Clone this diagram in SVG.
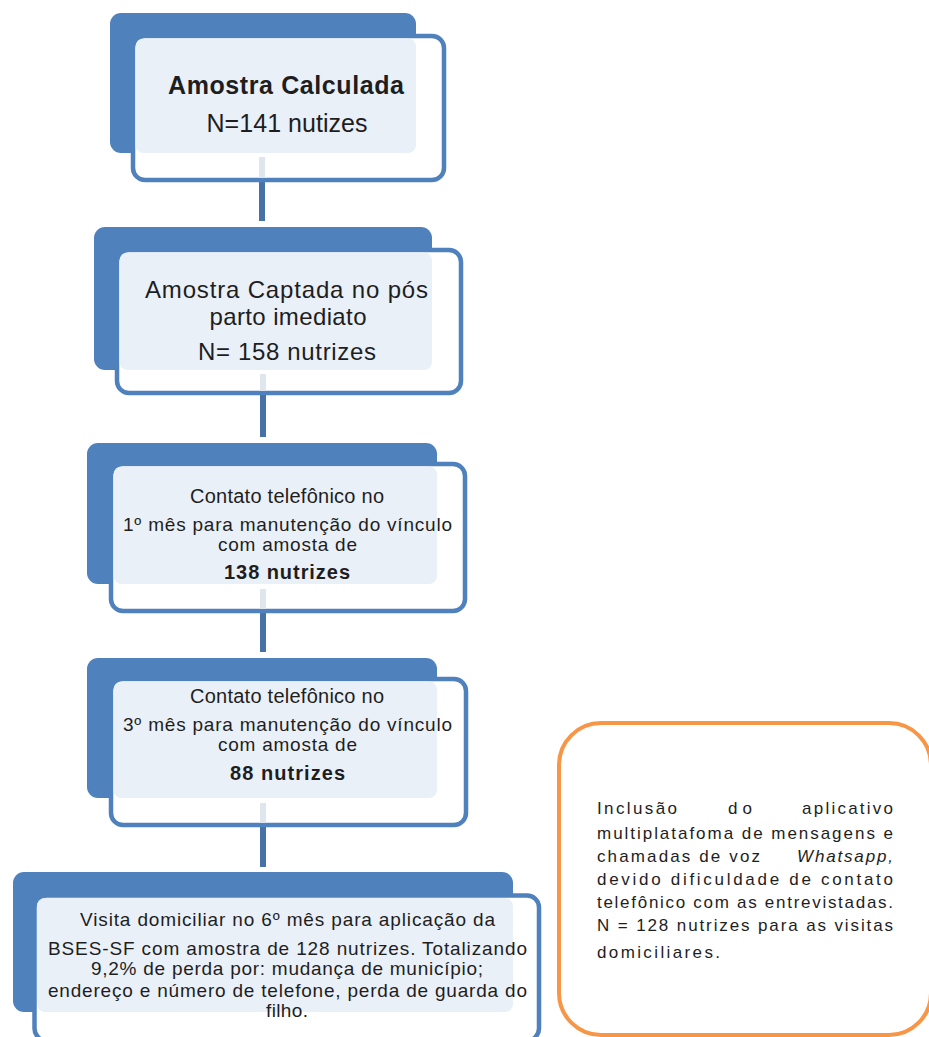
<svg xmlns="http://www.w3.org/2000/svg" width="929" height="1037" viewBox="0 0 929 1037">
<style>
.back{fill:#4F81BD}
.front{fill:#FFFFFF;stroke:#4F81BD;stroke-width:4.5}
.light{fill:#EAF0F8}
.t{font-family:"Liberation Sans",Arial,sans-serif;fill:#1E1E1E;text-anchor:middle}
.b{font-weight:bold}
.o{font-family:"Liberation Sans",Arial,sans-serif;fill:#1E1E1E;font-size:17px}
.conn{stroke:#4672A8;stroke-width:6;fill:none}
.faint{stroke:#E0E6EE;stroke-width:6;fill:none}
</style>
<rect width="929" height="1037" fill="#FFFFFF"/>
<g id="connectors">
<line class="conn" x1="262" y1="182" x2="262" y2="221"/>
<line class="conn" x1="263" y1="395" x2="263" y2="437"/>
<line class="conn" x1="263" y1="613" x2="263" y2="652"/>
<line class="conn" x1="263" y1="827" x2="263" y2="867"/>
</g>
<g id="node1">
<rect class="back" x="110" y="13" width="306" height="140" rx="11"/>
<rect class="front" x="133" y="36" width="311" height="144" rx="12"/>
<rect class="light" x="135.5" y="38.5" width="280.5" height="114.5" rx="8"/>
<line class="faint" x1="262" y1="157" x2="262" y2="178"/>
<text class="t b" x="286" y="94" font-size="25" textLength="236">Amostra Calculada</text>
<text class="t" x="287" y="132" font-size="25" textLength="161">N=141 nutizes</text>
</g>
<g id="node2">
<rect class="back" x="94" y="227" width="338" height="143" rx="11"/>
<rect class="front" x="117" y="250" width="344" height="143" rx="12"/>
<rect class="light" x="119.5" y="252.5" width="312.5" height="117.5" rx="8"/>
<line class="faint" x1="263" y1="374" x2="263" y2="391"/>
<text class="t" x="286.5" y="298" font-size="24" textLength="283">Amostra Captada no pós</text>
<text class="t" x="288" y="325" font-size="24" textLength="157">parto imediato</text>
<text class="t" x="287" y="360" font-size="24" textLength="178">N= 158 nutrizes</text>
</g>
<g id="node3">
<rect class="back" x="87" y="443" width="350" height="141" rx="11"/>
<rect class="front" x="111" y="464" width="354" height="147" rx="12"/>
<rect class="light" x="113.5" y="466.5" width="323.5" height="117.5" rx="8"/>
<line class="faint" x1="263" y1="589" x2="263" y2="609"/>
<text class="t" x="287" y="503" font-size="20" textLength="194">Contato telefônico no</text>
<text class="t" x="287.5" y="531" font-size="19" textLength="329">1º mês para manutenção do vínculo</text>
<text class="t" x="287.5" y="551" font-size="19" textLength="139">com amosta de</text>
<text class="t b" x="287" y="579" font-size="20" textLength="126">138 nutrizes</text>
</g>
<g id="node4">
<rect class="back" x="87" y="658" width="350" height="140" rx="11"/>
<rect class="front" x="111" y="679" width="355" height="146" rx="12"/>
<rect class="light" x="113.5" y="681.5" width="323.5" height="116.5" rx="8"/>
<line class="faint" x1="263" y1="803" x2="263" y2="823"/>
<text class="t" x="287" y="703" font-size="20" textLength="194">Contato telefônico no</text>
<text class="t" x="287.5" y="731" font-size="19" textLength="329">3º mês para manutenção do vínculo</text>
<text class="t" x="287.5" y="751" font-size="19" textLength="139">com amosta de</text>
<text class="t b" x="287.5" y="780" font-size="20" textLength="115">88 nutrizes</text>
</g>
<g id="node5">
<rect class="back" x="13" y="872" width="500" height="140" rx="11"/>
<rect class="front" x="34.5" y="895.5" width="504.5" height="145" rx="12"/>
<rect class="light" x="37" y="898" width="476" height="114" rx="8"/>
<text class="t" x="287.5" y="926" font-size="19" textLength="415">Visita domiciliar  no 6º mês  para aplicação da</text>
<text class="t" x="287.5" y="955" font-size="19" textLength="479">BSES-SF  com amostra de 128 nutrizes. Totalizando</text>
<text class="t" x="287" y="975" font-size="19" textLength="392">9,2% de perda por: mudança de município;</text>
<text class="t" x="287.5" y="997" font-size="19" textLength="479">endereço e número de telefone, perda de guarda do</text>
<text class="t" x="287" y="1017" font-size="19" textLength="42">filho.</text>
</g>
<g id="note">
<rect x="559" y="723" width="372" height="312" rx="42" fill="#FFFFFF" stroke="#F79646" stroke-width="4"/>
<text class="o" x="597" y="814" textLength="80">Inclusão</text>
<text class="o" x="728" y="814" textLength="24">do</text>
<text class="o" x="893" y="814" text-anchor="end" textLength="91">aplicativo</text>
<text class="o" x="597" y="839" textLength="296">multiplatafoma de mensagens e</text>
<text class="o" x="597" y="862" textLength="163">chamadas de voz</text>
<text class="o" x="797" y="862" textLength="96" font-style="italic">Whatsapp,</text>
<text class="o" x="597" y="885" textLength="296">devido dificuldade de contato</text>
<text class="o" x="597" y="908" textLength="296">telefônico com as entrevistadas.</text>
<text class="o" x="597" y="931" textLength="296">N = 128 nutrizes para as visitas</text>
<text class="o" x="597" y="958" textLength="123">domiciliares.</text>
</g>
</svg>
